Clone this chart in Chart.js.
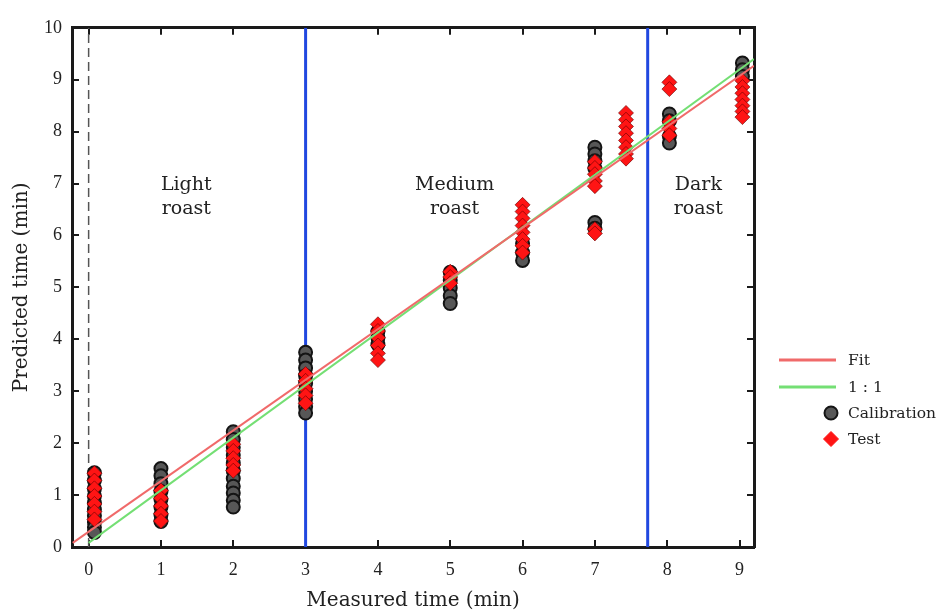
<!DOCTYPE html>
<html>
<head>
<meta charset="utf-8">
<script src="https://cdn.jsdelivr.net/npm/chart.js@4.4.1/dist/chart.umd.min.js"></script>
<style>
  html, body { margin: 0; padding: 0; background: #fff; }
  #wrap { width: 937px; height: 611px; }
</style>
</head>
<body>
<div id="wrap"><canvas id="chart"></canvas></div>
<script>
// measured time of each sample column (min)
const measuredTimes = [0.08, 1, 2, 3, 4, 5, 6, 7, 7.43, 8.03, 9.04];

// predicted times per column
const calibrationPredicted = [
  [1.43, 1.28, 1.12, 0.98, 0.85, 0.72, 0.60, 0.48, 0.38, 0.28],
  [1.51, 1.37, 1.22, 1.07, 0.92, 0.77, 0.62, 0.49],
  [2.22, 2.07, 1.92, 1.77, 1.62, 1.47, 1.32, 1.17, 1.04, 0.90, 0.77],
  [3.75, 3.60, 3.45, 3.30, 3.15, 3.00, 2.85, 2.70, 2.58],
  [4.15, 4.03, 3.90],
  [5.29, 5.14, 4.99, 4.84, 4.69],
  [5.85, 5.67, 5.52],
  [7.70, 7.57, 7.44, 7.29, 6.25, 6.14],
  [],
  [8.34, 8.21, 7.91, 7.78],
  [9.32, 9.19, 9.06]
];
const testPredicted = [
  [1.42, 1.28, 1.13, 0.98, 0.83, 0.68, 0.53],
  [1.09, 0.94, 0.79, 0.64, 0.50],
  [1.98, 1.85, 1.71, 1.58, 1.47],
  [3.33, 3.20, 3.05, 2.92, 2.77],
  [4.29, 4.16, 4.03, 3.88, 3.73, 3.60],
  [5.30, 5.20, 5.08],
  [6.59, 6.46, 6.33, 6.19, 6.06, 5.93, 5.80, 5.67],
  [7.42, 7.30, 7.18, 7.05, 6.95, 6.12, 6.04],
  [8.36, 8.23, 8.10, 7.97, 7.83, 7.70, 7.57, 7.48],
  [8.95, 8.82, 8.19, 8.06, 7.93],
  [8.98, 8.86, 8.74, 8.62, 8.50, 8.39, 8.28]
];

// regression line and 1:1 line end points
const fitX = [-0.22, 9.2];
const fitY = [0.08, 9.27];
const identityX = [0.0, 9.2];
const identityY = [0.08, 9.4];

// roast class boundaries and the zero reference
const roastBoundaries = [3.0, 7.73];
const zeroLine = 0;
const roastNames = ['Light', 'Medium', 'Dark'];

const xTicks = [0, 1, 2, 3, 4, 5, 6, 7, 8, 9];
const yTicks = [0, 1, 2, 3, 4, 5, 6, 7, 8, 9, 10];
const xRange = [-0.23, 9.2];
const yRange = [0, 10];

const textFont = 'DejaVu Serif';
const tickFont = 'Liberation Serif';
const ink = '#222';

function columnPoints(cols) {
  const pts = [];
  cols.forEach((col, i) => col.forEach(v => pts.push({ x: measuredTimes[i], y: v })));
  return pts;
}
function linePoints(xs, ys) {
  return xs.map((x, i) => ({ x: x, y: ys[i] }));
}
function verticalAt(x) {
  return linePoints([x, x], yRange);
}

const datasets = [
  {
    label: 'Fit', data: linePoints(fitX, fitY), showLine: true,
    borderColor: '#f06a6a', borderWidth: 2, pointRadius: 0, order: 0
  },
  {
    label: '1 : 1', data: linePoints(identityX, identityY), showLine: true,
    borderColor: '#74df74', borderWidth: 2, pointRadius: 0, order: 0
  },
  {
    label: 'Calibration', data: columnPoints(calibrationPredicted),
    pointStyle: 'circle', pointRadius: 6.5, backgroundColor: '#575757',
    borderColor: '#141414', borderWidth: 2, order: 2
  },
  {
    label: 'Test', data: columnPoints(testPredicted),
    pointStyle: 'rectRot', pointRadius: 7.5, backgroundColor: '#ff1414',
    borderColor: 'rgba(100,0,0,0.6)', borderWidth: 1, order: 1
  },
  {
    label: 'zero', data: verticalAt(zeroLine), showLine: true,
    borderColor: '#555', borderWidth: 1.5, borderDash: [9, 5], pointRadius: 0, order: 3
  }
];
roastBoundaries.forEach(b => datasets.push({
  label: 'boundary', data: verticalAt(b), showLine: true,
  borderColor: '#2148e0', borderWidth: 3, pointRadius: 0, order: 3
}));

// labels for the roast regions, anchored in data units
const regionLabels = {
  id: 'regionLabels',
  afterDatasetsDraw(chart) {
    const { ctx, scales } = chart;
    const anchors = [[1.35, 6.97], [5.06, 6.97], [8.43, 6.97]];
    ctx.save();
    ctx.font = '19px "' + textFont + '"';
    ctx.fillStyle = ink;
    ctx.textAlign = 'center';
    ctx.textBaseline = 'middle';
    roastNames.forEach((name, i) => {
      const px = scales.x.getPixelForValue(anchors[i][0]);
      const py = scales.y.getPixelForValue(anchors[i][1]);
      ctx.fillText(name, px, py);
      ctx.fillText('roast', px, py + 24);
    });
    ctx.restore();
  }
};

// legend to the right of the frame
const sideLegend = {
  id: 'sideLegend',
  afterDraw(chart) {
    const { ctx, chartArea } = chart;
    const x0 = chartArea.right;
    const rows = [360, 387, 413, 439];
    const items = chart.data.datasets.slice(0, 4);
    ctx.save();
    items.forEach((ds, i) => {
      const y = rows[i];
      if (ds.showLine) {
        ctx.strokeStyle = ds.borderColor;
        ctx.lineWidth = 3;
        ctx.beginPath();
        ctx.moveTo(x0 + 25, y);
        ctx.lineTo(x0 + 82, y);
        ctx.stroke();
      } else {
        ctx.fillStyle = ds.backgroundColor;
        ctx.strokeStyle = ds.pointStyle === 'circle' ? ds.borderColor : ds.backgroundColor;
        ctx.lineWidth = ds.borderWidth;
        Chart.helpers.drawPoint(ctx, {
          pointStyle: ds.pointStyle, radius: ds.pointRadius, rotation: 0, borderWidth: ds.borderWidth
        }, x0 + 77, y);
      }
      ctx.fillStyle = ink;
      ctx.font = '15.5px "' + textFont + '"';
      ctx.textAlign = 'left';
      ctx.textBaseline = 'middle';
      ctx.fillText(ds.label, x0 + 94, y + 1);
    });
    ctx.restore();
  }
};

const frame = { display: true, color: '#1a1a1a', width: 3 };
const inwardTicks = {
  display: true, drawOnChartArea: false, drawTicks: true,
  tickLength: -7, color: '#1a1a1a', lineWidth: 2
};
const setTicks = values => scale => {
  scale.ticks = values.map(v => ({ value: v }));
};
const tickLabels = { color: ink, font: { family: tickFont, size: 18 } };

new Chart(document.getElementById('chart'), {
  type: 'scatter',
  data: { datasets: datasets },
  options: {
    responsive: true,
    maintainAspectRatio: false,
    animation: false,
    events: [],
    layout: { padding: 0 },
    plugins: { legend: { display: false }, tooltip: { enabled: false } },
    scales: {
      x: {
        type: 'linear', position: 'bottom', min: xRange[0], max: xRange[1],
        border: frame, grid: inwardTicks,
        ticks: Object.assign({ padding: 19, autoSkip: false, maxRotation: 0 }, tickLabels),
        title: {
          display: true, text: 'Measured time (min)', color: ink,
          font: { family: textFont, size: 20 }, padding: { top: 0, bottom: -2 }
        },
        afterBuildTicks: setTicks(xTicks),
        afterFit: s => { s.height = 64; }
      },
      x2: {
        type: 'linear', position: 'top', min: xRange[0], max: xRange[1],
        border: frame, grid: inwardTicks,
        ticks: { display: false },
        afterBuildTicks: setTicks(xTicks),
        afterFit: s => { s.height = 16; }
      },
      y: {
        type: 'linear', position: 'left', min: yRange[0], max: yRange[1],
        border: frame, grid: inwardTicks,
        ticks: Object.assign({ padding: 17, autoSkip: false }, tickLabels),
        title: {
          display: true, text: 'Predicted time (min)', color: ink,
          font: { family: textFont, size: 20 }, padding: { top: 10, bottom: 0 }
        },
        afterBuildTicks: setTicks(yTicks),
        afterFit: s => { s.width = 72; }
      },
      y2: {
        type: 'linear', position: 'right', min: yRange[0], max: yRange[1],
        border: frame, grid: inwardTicks,
        ticks: { display: false },
        afterBuildTicks: setTicks(yTicks),
        afterFit: s => { s.width = 183; }
      }
    }
  },
  plugins: [regionLabels, sideLegend]
});
</script>
</body>
</html>
